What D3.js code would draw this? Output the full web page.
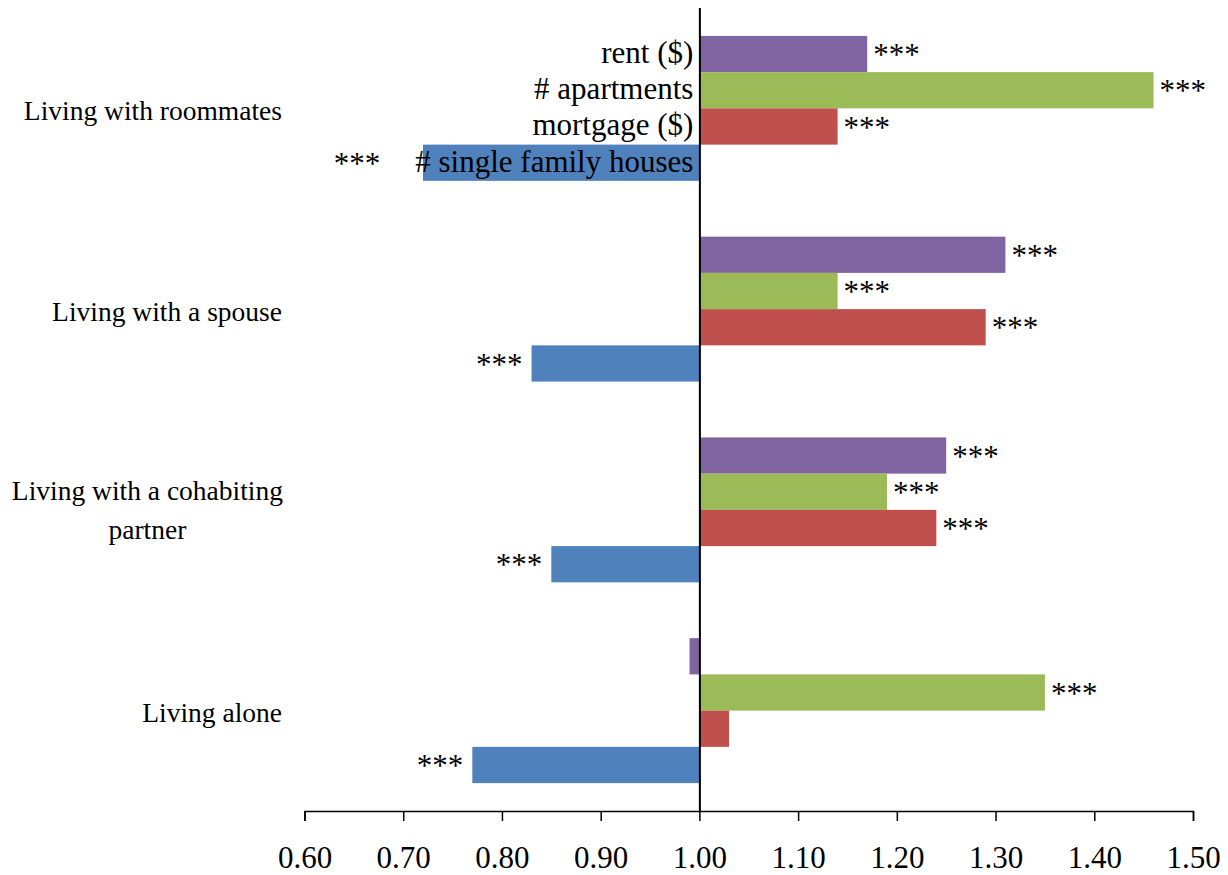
<!DOCTYPE html>
<html>
<head>
<meta charset="utf-8">
<script src="https://cdn.jsdelivr.net/npm/d3@7/dist/d3.min.js"></script>
<style>
  html, body { margin: 0; padding: 0; background: #fff; }
  svg { display: block; }
  text { font-family: "Liberation Serif", "Times New Roman", serif; fill: #000; }
</style>
</head>
<body>
<svg id="chart" width="1228" height="875"></svg>
<script>
// Household types (top to bottom) and their wrapped label lines
const categories = ["Living with roommates", "Living with a spouse", "Living with a cohabiting partner", "Living alone"];
const categoryLines = [["Living with roommates"], ["Living with a spouse"], ["Living with a cohabiting", "partner"], ["Living alone"]];

// Series, drawn top to bottom inside each group
const seriesNames = ["rent ($)", "# apartments", "mortgage ($)", "# single family houses"];
const seriesColors = ["#8064A2", "#9BBB59", "#C0504D", "#4F81BD"];

// Ratios per household type (same order as categories)
const rentValues       = [1.17, 1.31, 1.25, 0.99];
const apartmentValues  = [1.46, 1.14, 1.19, 1.35];
const mortgageValues   = [1.14, 1.29, 1.24, 1.03];
const houseValues      = [0.72, 0.83, 0.85, 0.77];

// Significance markers
const rentSig      = ["***", "***", "***", ""];
const apartmentSig = ["***", "***", "***", "***"];
const mortgageSig  = ["***", "***", "***", ""];
const houseSig     = ["***", "***", "***", "***"];

const xTicks = [0.60, 0.70, 0.80, 0.90, 1.00, 1.10, 1.20, 1.30, 1.40, 1.50];
const baseline = 1.00;

const seriesValues = [rentValues, apartmentValues, mortgageValues, houseValues];
const seriesSig = [rentSig, apartmentSig, mortgageSig, houseSig];

const svg = d3.select("#chart");
const CAT_FONT = 27.5;
const FONT = 31;

const plot = { left: 304.5, right: 1193, top: 8, bottom: 811 };

const x = d3.scaleLinear().domain([0.6, 1.5]).range([plot.left, plot.right]);
const y = d3.scaleBand().domain(categories).range([plot.top, plot.bottom])
  .paddingInner(0.278).paddingOuter(0.139);
const ySeries = d3.scaleBand().domain(seriesNames).range([0, y.bandwidth()]).padding(0);

// flatten into records
const records = [];
categories.forEach((c, ci) => {
  seriesNames.forEach((s, si) => {
    records.push({ cat: c, ci, series: s, si, value: seriesValues[si][ci], sig: seriesSig[si][ci] });
  });
});

// Bars
svg.append("g").selectAll("rect").data(records).join("rect")
  .attr("x", d => Math.min(x(baseline), x(d.value)))
  .attr("width", d => Math.abs(x(d.value) - x(baseline)))
  .attr("y", d => y(d.cat) + ySeries(d.series))
  .attr("height", ySeries.bandwidth())
  .attr("fill", d => seriesColors[d.si]);

// Series names inside the first group, right-aligned on the baseline
const nameLabels = svg.append("g").selectAll("text").data(seriesNames).join("text")
  .attr("x", x(baseline) - 6)
  .attr("y", d => y(categories[0]) + ySeries(d) + ySeries.bandwidth() / 2)
  .attr("dy", "0.29em")
  .attr("text-anchor", "end")
  .style("font-size", FONT + "px")
  .text(d => d);

const nameLeft = {};
nameLabels.each(function (d) { nameLeft[d] = this.getBBox().x; });

// Significance markers
svg.append("g").selectAll("text").data(records.filter(d => d.sig)).join("text")
  .attr("x", d => {
    if (d.value >= baseline) return x(d.value) + 6;
    let edge = x(d.value);
    if (d.ci === 0) edge = Math.min(edge, nameLeft[d.series] - 26);
    return edge - 9;
  })
  .attr("y", d => y(d.cat) + ySeries(d.series) + ySeries.bandwidth() / 2)
  .attr("dy", "0.36em")
  .attr("text-anchor", d => d.value >= baseline ? "start" : "end")
  .style("font-size", FONT + "px")
  .text(d => d.sig);

// Category labels
const catG = svg.append("g");
categories.forEach((c, ci) => {
  const lines = categoryLines[ci];
  const cy = y(c) + y.bandwidth() / 2;
  const t = catG.append("text").style("font-size", CAT_FONT + "px");
  if (lines.length === 1) {
    t.attr("x", 282).attr("y", cy).attr("dy", "0.42em").attr("text-anchor", "end").text(lines[0]);
  } else {
    // multi-line: centred block whose widest line ends at the label edge
    t.attr("text-anchor", "middle");
    const spans = lines.map((ln, li) => t.append("tspan").attr("y", cy - 9.5 + li * 39).text(ln));
    const w = d3.max(spans.map(s => s.node().getComputedTextLength()));
    spans.forEach(s => s.attr("x", 283 - w / 2));
  }
});

// Baseline at 1.00
svg.append("line")
  .attr("x1", x(baseline) + 0.5).attr("x2", x(baseline) + 0.5)
  .attr("y1", plot.top).attr("y2", plot.bottom)
  .attr("stroke", "#000").attr("stroke-width", 2);

// X axis
const axis = d3.axisBottom(x).tickValues(xTicks).tickFormat(d3.format(".2f"))
  .tickSize(10).tickSizeOuter(10).tickPadding(25);
const ax = svg.append("g").attr("transform", `translate(0,${plot.bottom})`).call(axis);
ax.select(".domain").attr("stroke", "#000").attr("stroke-width", 1.5);
ax.selectAll(".tick line").attr("stroke", "#000").attr("stroke-width", 1.5);
ax.selectAll(".tick text")
  .attr("font-family", null)
  .style("font-family", "'Liberation Serif', 'Times New Roman', serif")
  .style("font-size", FONT + "px")
  .attr("fill", "#000");
</script>
</body>
</html>
